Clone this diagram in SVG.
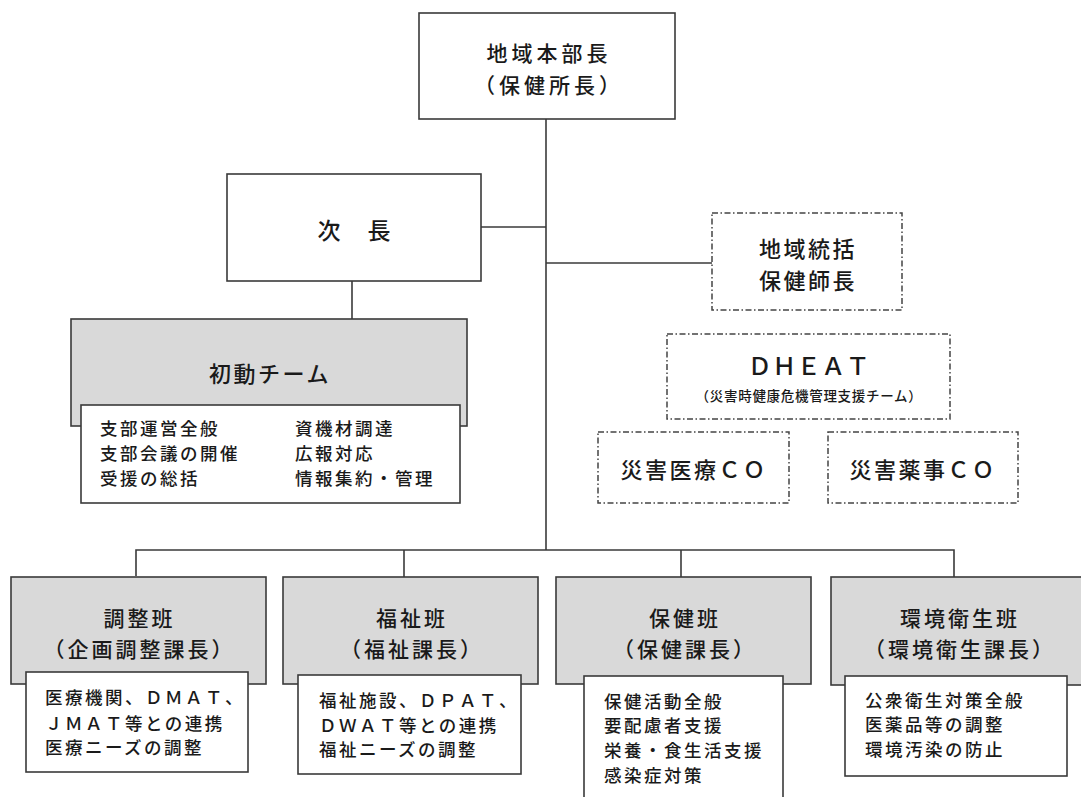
<svg xmlns="http://www.w3.org/2000/svg" width="1081" height="797" viewBox="0 0 1081 797">
<style>
text{font-family:"Noto Sans CJK JP","Noto Sans",sans-serif;fill:#1a1a1a;font-weight:500}
.box{fill:#ffffff;stroke:#3a3a3a;stroke-width:1.6}
.gray{fill:#d9d9d9;stroke:#3a3a3a;stroke-width:1.6}
.dash{fill:#ffffff;stroke:#444444;stroke-width:1.5;stroke-dasharray:6 2.5 1.5 2.5}
.line{fill:none;stroke:#3a3a3a;stroke-width:1.6}
.t0{font-size:21px;letter-spacing:4px;text-anchor:middle}
.t1{font-size:21px;letter-spacing:3px;text-anchor:middle}
.t2{font-size:22px;letter-spacing:2.5px;text-anchor:middle}
.b{font-size:17.5px;letter-spacing:2.5px}
</style>
<g id="connectors">
<line class="line" x1="546" y1="119" x2="546" y2="550"/>
<line class="line" x1="481" y1="227" x2="546" y2="227"/>
<line class="line" x1="546" y1="263" x2="712" y2="263"/>
<line class="line" x1="352" y1="281" x2="352" y2="319"/>
<polyline class="line" points="136,576 136,550 954,550 954,577"/>
<line class="line" x1="404" y1="550" x2="404" y2="577"/>
<line class="line" x1="681" y1="550" x2="681" y2="577"/>
</g>
<g id="honbucho">
<rect class="box" x="419" y="13" width="256" height="106"/>
<text class="t0" x="549" y="61">地域本部長</text>
<text class="t0" x="549" y="93">（保健所長）</text>
</g>
<g id="jicho">
<rect class="box" x="227" y="174" width="254" height="107"/>
<text style="font-size:23px;letter-spacing:2px;text-anchor:middle" x="355" y="238.5">次　長</text>
</g>
<g id="shodo">
<rect class="gray" x="71" y="319" width="396" height="107"/>
<text class="t2" x="270" y="381.5">初動チーム</text>
<rect class="box" x="81" y="405" width="379" height="98"/>
<text class="b" x="100" y="435">支部運営全般</text>
<text class="b" x="100" y="460">支部会議の開催</text>
<text class="b" x="100" y="485">受援の総括</text>
<text class="b" x="295" y="435">資機材調達</text>
<text class="b" x="295" y="460">広報対応</text>
<text class="b" x="295" y="485">情報集約・管理</text>
</g>
<g id="tokatsu">
<rect class="dash" x="712" y="213" width="190" height="97"/>
<text class="t2" x="808" y="256.5">地域統括</text>
<text class="t2" x="808" y="288.5">保健師長</text>
</g>
<g id="dheat">
<rect class="dash" x="667" y="334" width="283" height="85"/>
<text style="font-size:24px;letter-spacing:0.5px;text-anchor:middle" x="809" y="375">ＤＨＥＡＴ</text>
<text style="font-size:13.5px;letter-spacing:0.7px;text-anchor:middle" x="809" y="401">（災害時健康危機管理支援チーム）</text>
</g>
<g id="iryo-co">
<rect class="dash" x="598" y="432" width="191" height="71"/>
<text class="t2" x="694" y="477.5">災害医療ＣＯ</text>
</g>
<g id="yakuji-co">
<rect class="dash" x="828" y="432" width="190" height="71"/>
<text class="t2" x="923" y="477.5">災害薬事ＣＯ</text>
</g>
<g id="chosei">
<rect class="gray" x="11" y="577" width="255" height="107"/>
<text class="t1" x="139.5" y="626">調整班</text>
<text class="t1" x="139.5" y="657">（企画調整課長）</text>
<rect class="box" x="26" y="672" width="222" height="100"/>
<text class="b" x="45" y="704">医療機関、ＤＭＡＴ、</text>
<text class="b" x="45" y="730">ＪＭＡＴ等との連携</text>
<text class="b" x="45" y="754">医療ニーズの調整</text>
</g>
<g id="fukushi">
<rect class="gray" x="283" y="577" width="255" height="107"/>
<text class="t1" x="412" y="626">福祉班</text>
<text class="t1" x="412" y="657">（福祉課長）</text>
<rect class="box" x="298" y="675" width="223" height="99"/>
<text class="b" x="319" y="707">福祉施設、ＤＰＡＴ、</text>
<text class="b" x="319" y="732">ＤＷＡＴ等との連携</text>
<text class="b" x="319" y="756">福祉ニーズの調整</text>
</g>
<g id="hoken">
<rect class="gray" x="556" y="577" width="255" height="107"/>
<text class="t1" x="685" y="626">保健班</text>
<text class="t1" x="685" y="657">（保健課長）</text>
<rect class="box" x="584" y="676" width="199" height="130"/>
<text class="b" x="604" y="708">保健活動全般</text>
<text class="b" x="604" y="732">要配慮者支援</text>
<text class="b" x="604" y="757">栄養・食生活支援</text>
<text class="b" x="604" y="782">感染症対策</text>
</g>
<g id="kankyo">
<rect class="gray" x="831" y="577" width="255" height="108"/>
<text class="t1" x="960" y="626">環境衛生班</text>
<text class="t1" x="960" y="657">（環境衛生課長）</text>
<rect class="box" x="845" y="676" width="222" height="100"/>
<text class="b" x="865" y="707">公衆衛生対策全般</text>
<text class="b" x="865" y="731">医薬品等の調整</text>
<text class="b" x="865" y="756">環境汚染の防止</text>
</g>
</svg>
